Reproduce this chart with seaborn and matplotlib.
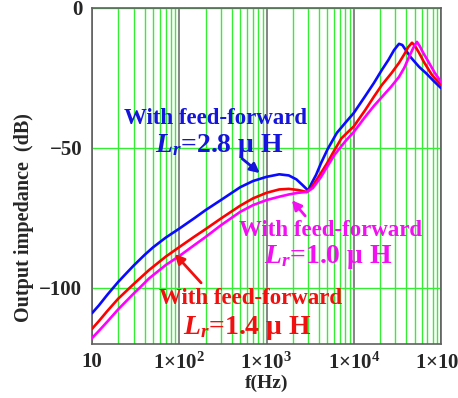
import numpy as np
import pandas as pd
import seaborn as sns
import matplotlib
matplotlib.use("Agg")
import matplotlib.pyplot as plt
from matplotlib.ticker import LogLocator, FixedLocator, NullFormatter

# 读取的曲线数据 (频率 Hz, 输出阻抗 dB)
freq_28 = [10, 12, 15, 20, 25, 30, 40, 50, 70, 100, 150, 200, 300, 500, 700,
           1000, 1400, 1800, 2200, 2600, 3000, 3300, 3700, 4200, 5000, 6400,
           8000, 10000, 13500, 17000, 21000, 25000, 29000, 33000, 36000, 40000,
           45000, 56000, 68000, 82000, 100000]
db_28 = [-109, -106.2, -102.4, -97.8, -94.6, -92, -88.2, -85.5, -82, -78.8,
         -75, -72.2, -68.6, -64, -61.8, -60.3, -59.4, -59.8, -61.2, -63.3,
         -65.2, -62.5, -59.6, -55.5, -50.5, -44.6, -41, -37.5, -31.5, -26.8,
         -22.1, -18.5, -15, -12.8, -13.2, -15.3, -17.6, -21, -23.4, -26, -28.6]

freq_14 = [10, 12, 15, 20, 30, 45, 70, 100, 150, 200, 300, 500, 700, 1000,
           1400, 1800, 2300, 2900, 3300, 3700, 4200, 5000, 5800, 7200, 8500,
           10000, 13500, 17000, 21000, 27000, 33000, 38000, 42000, 46500, 50000,
           56000, 64000, 79000, 100000]
db_14 = [-114.6, -111.8, -108.2, -103.8, -98.6, -93.6, -88.8, -85.4, -81.6,
         -79, -75.2, -70.6, -68, -66, -64.8, -64.6, -65, -65.7, -64, -61.6, -59,
         -55.2, -51.6, -46.6, -44.4, -42.3, -36.5, -31.7, -27.5, -23.3, -19.6,
         -16.5, -14, -12.4, -13.4, -16, -19.4, -24, -27.5]

freq_10 = [10, 12, 15, 20, 30, 35, 45, 70, 100, 150, 200, 300, 500, 700, 1000,
           1400, 1800, 2300, 2900, 3400, 4200, 5000, 6000, 8000, 10000, 13500,
           17000, 21000, 27000, 33000, 38000, 43000, 48000, 53000, 57000, 62000,
           73000, 85000, 100000]
db_10 = [-117.9, -115.3, -112, -107.6, -102, -100, -96.6, -91.8, -88.6, -84.6,
         -81.8, -77.6, -72.8, -70.4, -68.6, -67.4, -66.6, -66, -65.7, -64.3,
         -60.4, -56.5, -52.5, -47.6, -44.3, -38.9, -35, -31.8, -28, -24.6,
         -21.3, -17.5, -14.3, -12.1, -13.6, -15.8, -19.6, -23.2, -26.4]

series_names = ["2.8", "1.4", "1.0"]
x_ticks = [10, 100, 1000, 10000, 100000]
x_ticklabels = ["10", r"1×10$^{2}$", r"1×10$^{3}$", r"1×10$^{4}$", r"1×10$^{5}$"]
y_ticks = [0, -50, -100]
y_ticklabels = ["0", "\u221250", "\u2212100"]

colors = {"2.8": "#0a0aff", "1.4": "#ff0000", "1.0": "#ff00ff"}
text_colors = {"2.8": "#1414dc", "1.4": "#f01010", "1.0": "#f010f0"}

df = pd.concat([
    pd.DataFrame({"f": freq_28, "dB": db_28, "Lr": "2.8"}),
    pd.DataFrame({"f": freq_14, "dB": db_14, "Lr": "1.4"}),
    pd.DataFrame({"f": freq_10, "dB": db_10, "Lr": "1.0"}),
])

sns.set_style("white")
plt.rcParams["font.family"] = ["Liberation Serif", "DejaVu Serif"]
plt.rcParams["font.weight"] = "bold"
plt.rcParams["mathtext.fontset"] = "custom"
plt.rcParams["mathtext.rm"] = "Liberation Serif:bold"
plt.rcParams["mathtext.it"] = "Liberation Serif:italic:bold"
plt.rcParams["mathtext.bf"] = "Liberation Serif:bold"

fig = plt.figure(figsize=(4.58, 3.98), dpi=100)
ax = fig.add_axes([0.2009, 0.1357, 0.7620, 0.8442])

sns.lineplot(data=df, x="f", y="dB", hue="Lr", hue_order=series_names,
             palette=colors, estimator=None, sort=False, linewidth=1.9,
             legend=False, ax=ax, zorder=3)

ax.set_xscale("log")
ax.set_xlim(10, 1e5)
ax.set_ylim(-120, 0)

ax.xaxis.set_major_locator(FixedLocator(x_ticks))
ax.set_xticks(x_ticks)
ax.set_xticklabels(x_ticklabels, fontsize=15, fontweight="bold")
ax.xaxis.set_minor_locator(LogLocator(base=10, subs=np.arange(2, 10)))
ax.xaxis.set_minor_formatter(NullFormatter())
ax.set_yticks(y_ticks)
ax.set_yticklabels(y_ticklabels, fontsize=15, fontweight="bold")
ax.tick_params(which="both", length=0)
ax.tick_params(axis="x", pad=6)
ax.tick_params(axis="y", pad=7)

ax.set_axisbelow(True)
ax.grid(which="minor", axis="x", color="#33ee33", linewidth=1.0)
ax.grid(which="major", axis="x", color="#707070", linewidth=1.2)
ax.grid(which="major", axis="y", color="#33ee33", linewidth=1.0)
for sp in ax.spines.values():
    sp.set_color("#606060")
    sp.set_linewidth(1.2)

ax.set_xlabel("f(Hz)", fontsize=14, fontweight="bold", labelpad=1)
ax.set_ylabel("Output impedance  (dB)", fontsize=14.5, fontweight="bold")
ax.yaxis.set_label_coords(-0.165, 0.375)

# 标注
labels = {
    "2.8": ((257, -39.3), (286, -49.3), (497, -53.2), (887, -59.6)),
    "1.0": ((5350, -79.3), (5070, -88.9), (2910, -75), (1860, -67.9)),
    "1.4": ((664, -103.6), (598, -114.3), (187, -98.9), (84.7, -87.1)),
}
for name, (p1, p2, tail, head) in labels.items():
    c = text_colors[name]
    ax.text(p1[0], p1[1], "With feed-forward", color=c, fontsize=16.5,
            fontweight="bold", ha="center", va="center", zorder=4)
    ax.text(p2[0], p2[1], r"$L_r$=" + name + " μ H", color=c, fontsize=20,
            fontweight="bold", ha="center", va="center", zorder=4)
    ax.annotate("", xy=head, xytext=tail,
                arrowprops=dict(arrowstyle="-|>", color=c, lw=2,
                                mutation_scale=14), zorder=4)

fig.savefig("out.png", dpi=100)
